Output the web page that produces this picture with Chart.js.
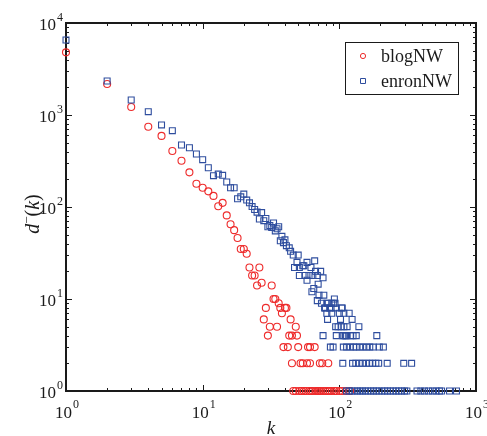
<!DOCTYPE html>
<html>
<head>
<meta charset="utf-8">
<script src="https://cdn.jsdelivr.net/npm/chart.js@4.4.1/dist/chart.umd.min.js"></script>
<style>
  html, body { margin: 0; padding: 0; background: #fff; }
  #wrap { width: 487px; height: 436px; }
</style>
</head>
<body>
<div id="wrap"><canvas id="chart" width="487" height="436"></canvas></div>
<script>
// blogNW: degree k and average neighbour degree d(k)
const blogK = [1, 2, 3, 4, 5, 6, 7, 8, 9, 10, 11, 12, 13, 14, 15, 16, 17, 18, 19, 20,
  21, 22, 23, 24, 25, 26, 27, 28, 29, 30, 31, 32, 33, 34, 35, 36, 37, 38, 39, 40,
  41, 42, 43, 44, 45, 45, 48, 49, 50, 52, 54, 58, 59, 61, 61, 66, 72, 75, 83,
  46, 48, 51, 53, 55, 57, 60, 62, 64, 67, 69, 71, 73, 76, 79, 82, 85, 88, 92, 95, 100, 105, 112, 120];
const blogD = [4800, 2170, 1220, 746, 593, 406, 318, 238, 179, 162, 148, 132, 102, 111, 81, 65, 56, 46, 35, 35,
  31, 22, 18, 18, 14, 22, 15, 6, 8, 4, 5, 14, 10, 10, 5, 9, 8, 7, 3, 8,
  8, 3, 4, 6, 2, 4, 5, 4, 3, 2, 2, 2, 3, 3, 2, 3, 2, 2, 2,
  1, 1, 1, 1, 1, 1, 1, 1, 1, 1, 1, 1, 1, 1, 1, 1, 1, 1, 1, 1, 1, 1, 1, 1];

// enronNW
const enronK = [1, 2, 3, 4, 5, 6, 7, 8, 9, 10, 11, 12, 13, 14, 15, 16, 17, 18, 19, 20,
  21, 22, 23, 24, 25, 26, 27, 28, 29, 30, 31, 32, 33, 34, 35, 36, 37, 38, 39, 40,
  41, 43, 44, 46, 47, 49, 50, 51, 51, 54, 55, 56, 58, 58, 60, 62, 63, 64, 65, 66,
  67, 69, 69, 70, 71, 73, 74, 76, 77, 78, 79, 81, 81, 82, 83, 85, 87, 88, 88, 91,
  92, 93, 94, 94, 98, 100, 102, 103, 104, 105, 108, 108, 114, 118, 124, 139,
  76, 95, 106, 108, 111, 113, 121, 126, 133, 188,
  86, 90, 107, 113, 120, 127, 133, 141, 149, 158, 167, 177, 196, 210,
  106, 125, 132, 140, 148, 157, 166, 175, 185, 194, 224, 296, 338,
  113, 118, 124, 130, 136, 142, 148, 155, 162, 170, 178, 186, 195, 205, 215, 225, 236, 248, 260, 272, 285, 300, 312,
  370, 395, 420, 450, 480, 510, 540, 560, 640, 720];
const enronD = [6530, 2340, 1456, 1087, 780, 675, 472, 441, 377, 327, 267, 219, 228, 221, 187, 162, 162, 123, 129, 138,
  119, 111, 101, 94, 88, 74, 87, 71, 75, 61, 63, 60, 67, 55, 58, 61, 43, 48, 41, 44,
  38, 36, 33, 30, 22, 25, 30, 22, 18, 23, 23, 18, 25, 16, 18, 22, 12, 18, 13, 26,
  20, 18, 9.6, 14.5, 11, 20, 9, 17, 11, 8, 8, 9, 7, 6, 9, 8, 8, 7, 9, 9,
  10, 9, 8, 5, 5, 7, 6, 5, 8, 8, 7, 5, 5, 7, 6, 5,
  4, 4, 4, 4, 4, 4, 4, 4, 4, 4,
  3, 3, 3, 3, 3, 3, 3, 3, 3, 3, 3, 3, 3, 3,
  2, 2, 2, 2, 2, 2, 2, 2, 2, 2, 2, 2, 2,
  1, 1, 1, 1, 1, 1, 1, 1, 1, 1, 1, 1, 1, 1, 1, 1, 1, 1, 1, 1, 1, 1, 1,
  1, 1, 1, 1, 1, 1, 1, 1, 1, 1];

const seriesNames = ['blogNW', 'enronNW'];
const seriesColors = ['#ee2b2b', '#2e4d9e'];
const xTicks = [1, 10, 100, 1000];
const yTicks = [1, 10, 100, 1000, 10000];
const xExp = ['0', '1', '2', '3'];
const yExp = ['0', '1', '2', '3', '4'];

const serif = '"Liberation Serif", "DejaVu Serif", serif';

const toPoints = (ks, ds) => ks.map((k, i) => ({ x: k, y: ds[i] }));

// minor tick values 2..9 inside each decade
const minorOf = (majors) => {
    const out = [];
    majors.slice(0, -1).forEach(d => {
        for (let m = 2; m <= 9; m++) out.push(d * m);
    });
    return out;
};

const axesPlugin = {
    id: 'axesPlugin',
    beforeDatasetsDraw(chart) {
        const { ctx, chartArea: a, scales: { x, y } } = chart;
        ctx.save();
        ctx.strokeStyle = '#1a1a1a';
        ctx.lineWidth = 1;
        const tick = (vals, len, isX) => {
            vals.forEach(v => {
                ctx.beginPath();
                if (isX) {
                    const px = Math.round(x.getPixelForValue(v)) + 0.5;
                    ctx.moveTo(px, a.bottom); ctx.lineTo(px, a.bottom - len);
                    ctx.moveTo(px, a.top); ctx.lineTo(px, a.top + len);
                } else {
                    const py = Math.round(y.getPixelForValue(v)) + 0.5;
                    ctx.moveTo(a.left, py); ctx.lineTo(a.left + len, py);
                    ctx.moveTo(a.right, py); ctx.lineTo(a.right - len, py);
                }
                ctx.stroke();
            });
        };
        tick(xTicks, 6, true);
        tick(minorOf(xTicks), 3, true);
        tick(yTicks, 6, false);
        tick(minorOf(yTicks), 3, false);

        ctx.lineWidth = 2;
        ctx.strokeRect(a.left, a.top, a.right - a.left, a.bottom - a.top);
        ctx.restore();
    },
    afterDraw(chart) {
        const { ctx, chartArea: a, scales: { x, y } } = chart;
        ctx.save();
        ctx.fillStyle = '#1a1a1a';
        ctx.textBaseline = 'alphabetic';

        // x tick labels: 10 with superscript
        xTicks.forEach((v, i) => {
            const px = x.getPixelForValue(v);
            ctx.font = '17px ' + serif;
            ctx.textAlign = 'left';
            const w = ctx.measureText('10').width;
            ctx.fillText('10', px - 11, a.bottom + 27);
            ctx.font = '12px ' + serif;
            ctx.fillText(xExp[i], px - 11 + w + 1, a.bottom + 17);
        });

        // y tick labels
        yTicks.forEach((v, i) => {
            const py = y.getPixelForValue(v);
            ctx.font = '17px ' + serif;
            ctx.textAlign = 'right';
            ctx.fillText('10', a.left - 10, py + 7);
            ctx.font = '12px ' + serif;
            ctx.textAlign = 'left';
            ctx.fillText(yExp[i], a.left - 9, py - 2);
        });

        // x title
        ctx.font = 'italic 19px ' + serif;
        ctx.textAlign = 'center';
        ctx.fillText('k', (a.left + a.right) / 2, 434);

        // y title: d‾(k), rotated
        ctx.translate(32, 214);
        ctx.rotate(-Math.PI / 2);
        ctx.textAlign = 'left';
        const parts = [
            { t: 'd', f: 'italic 20px ' + serif, dy: 0 },
            { t: '\u2212', f: '13px ' + serif, dy: -8 },
            { t: '(', f: '20px ' + serif, dy: 0 },
            { t: 'k', f: 'italic 20px ' + serif, dy: 0 },
            { t: ')', f: '20px ' + serif, dy: 0 }
        ];
        let total = 0;
        parts.forEach(p => { ctx.font = p.f; p.w = ctx.measureText(p.t).width; total += p.w; });
        let u = -total / 2;
        parts.forEach(p => {
            ctx.font = p.f;
            ctx.fillText(p.t, u, 7 + p.dy);
            u += p.w;
        });
        ctx.setTransform(1, 0, 0, 1, 0, 0);

        // legend box
        const lx = 345, ly = 42, lw = 113, lh = 52;
        ctx.fillStyle = '#fff';
        ctx.fillRect(lx, ly, lw, lh);
        ctx.strokeStyle = '#1a1a1a';
        ctx.lineWidth = 1;
        ctx.strokeRect(lx + 0.5, ly + 0.5, lw, lh);
        chart.data.datasets.forEach((ds, i) => {
            const cy = ly + 14 + i * 25;
            ctx.strokeStyle = ds.borderColor;
            ctx.lineWidth = 1;
            ctx.beginPath();
            if (ds.pointStyle === 'circle') {
                ctx.arc(363, cy, 2.6, 0, Math.PI * 2);
            } else {
                ctx.rect(360.5, cy - 2.5, 5, 5);
            }
            ctx.stroke();
            ctx.fillStyle = '#1a1a1a';
            ctx.font = '18px ' + serif;
            ctx.textAlign = 'left';
            ctx.fillText(ds.label, 381, cy + 6);
        });
        ctx.restore();
    }
};

new Chart(document.getElementById('chart').getContext('2d'), {
    type: 'scatter',
    data: {
        datasets: [
            {
                label: seriesNames[0],
                data: toPoints(blogK, blogD),
                pointStyle: 'circle',
                pointRadius: 3.5,
                borderWidth: 1.1,
                borderColor: seriesColors[0],
                backgroundColor: 'rgba(0,0,0,0)',
                clip: false,
                order: 2
            },
            {
                label: seriesNames[1],
                data: toPoints(enronK, enronD),
                pointStyle: 'rect',
                pointRadius: 4.2,
                borderWidth: 1.1,
                borderColor: seriesColors[1],
                backgroundColor: 'rgba(0,0,0,0)',
                clip: false,
                order: 1
            }
        ]
    },
    options: {
        responsive: false,
        animation: false,
        layout: { padding: { left: 66, right: 11, top: 23, bottom: 45 } },
        plugins: { legend: { display: false }, tooltip: { enabled: false } },
        scales: {
            x: { type: 'logarithmic', min: 1, max: 1000, display: false },
            y: { type: 'logarithmic', min: 1, max: 10000, display: false }
        }
    },
    plugins: [axesPlugin]
});
</script>
</body>
</html>
